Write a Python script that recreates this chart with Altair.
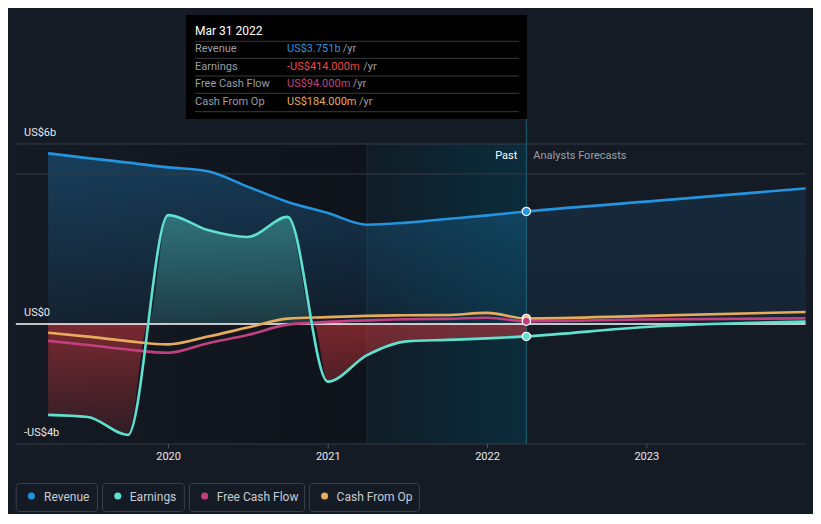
import altair as alt
import pandas as pd

# ---------------- data ----------------
past_dates = ["2019-03-31", "2019-06-30", "2019-09-30", "2019-12-31", "2020-03-31", "2020-06-30",
              "2020-09-30", "2020-12-31", "2021-03-31", "2021-06-30", "2021-09-30", "2021-12-31",
              "2022-03-31"]
forecast_dates = ["2022-03-31", "2022-12-31", "2023-12-31"]

series_names = ["Revenue", "Earnings", "Free Cash Flow", "Cash From Op"]
series_colors = ["#2394df", "#5fe1d0", "#c2407f", "#e6ac5c"]

revenue_past = [5.69, 5.53, 5.38, 5.22, 5.09, 4.58, 4.07, 3.70, 3.31, 3.38, 3.50, 3.62, 3.751]
earnings_past = [-3.03, -3.10, -3.70, 3.63, 3.13, 2.90, 3.57, -1.92, -1.04, -0.58, -0.53, -0.48, -0.414]
fcf_past = [-0.56, -0.70, -0.85, -0.96, -0.64, -0.37, -0.02, 0.07, 0.12, 0.16, 0.17, 0.21, 0.094]
cfo_past = [-0.29, -0.42, -0.57, -0.68, -0.42, -0.12, 0.18, 0.23, 0.27, 0.29, 0.30, 0.37, 0.184]

revenue_fc = [3.751, 4.08, 4.52]
earnings_fc = [-0.414, -0.10, 0.08]
fcf_fc = [0.094, 0.15, 0.19]
cfo_fc = [0.184, 0.27, 0.40]

y_tick_values = [6, 0, -4]
y_tick_labels = ["US$6b", "US$0", "-US$4b"]
grid_values = [6, 5, -4]
x_tick_dates = ["2020-01-01", "2021-01-01", "2022-01-01", "2023-01-01"]
x_tick_labels = ["2020", "2021", "2022", "2023"]

tooltip_title = "Mar 31 2022"
tooltip_values = ["US$3.751b", "-US$414.000m", "US$94.000m", "US$184.000m"]
tooltip_value_colors = ["#2394df", "#f2453d", "#c2407f", "#e6ac5c"]

period_start = "2019-01-16"
last_year_start = "2021-03-31"
present = "2022-03-31"
period_end = "2023-12-31"

# ---------------- layout ----------------
W, H = 805, 506
FONT = "Roboto"
BG = "#151b25"
xs = alt.Scale(type="utc", domain=[alt.DateTime(year=2018, month=12, date=29, utc=True),
                                   alt.DateTime(year=2024, month=1, date=17, utc=True)])
ys = alt.Scale(domain=[-6.3333, 10.5333], nice=False, zero=False)


def X(f):
    return alt.X(f"{f}:T", scale=xs, axis=None)


def Y(f):
    return alt.Y(f"{f}:Q", scale=ys, axis=None)


def X2(f):
    return alt.X2(f"{f}")


def Y2(f):
    return alt.Y2(f"{f}")


def vgrad(stops):
    return alt.Gradient(gradient="linear", x1=0, x2=0, y1=0, y2=1,
                        stops=[alt.GradientStop(color=c, offset=o) for o, c in stops])


def hgrad(stops):
    return alt.Gradient(gradient="linear", x1=0, x2=1, y1=0, y2=0,
                        stops=[alt.GradientStop(color=c, offset=o) for o, c in stops])


dummy = pd.DataFrame({"a": [0]})
layers = []

# background regions
region_df = pd.DataFrame({"x": [period_start], "x2": [last_year_start], "y": [6], "y2": [-4]})
layers.append(alt.Chart(region_df).mark_rect(
    color=hgrad([(0, "rgba(8,10,14,0.05)"), (1, "rgba(8,10,14,0.45)")])
).encode(x=X("x"), x2=X2("x2"), y=Y("y"), y2=Y2("y2")))

band_df = pd.DataFrame({"x": [last_year_start], "x2": [present], "y": [6], "y2": [-4]})
layers.append(alt.Chart(band_df).mark_rect(
    color=hgrad([(0, "#101c26"), (1, "#0b2d3c")])
).encode(x=X("x"), x2=X2("x2"), y=Y("y"), y2=Y2("y2")))

layers.append(alt.Chart(band_df).mark_rule(color="#1b2c37", strokeWidth=1).encode(
    x=X("x"), y=Y("y"), y2=Y2("y2")))

# revenue areas
rev_past_df = pd.DataFrame({"date": past_dates, "v": revenue_past})
rev_fc_df = pd.DataFrame({"date": forecast_dates, "v": revenue_fc})
layers.append(alt.Chart(rev_past_df).mark_area(
    interpolate="monotone",
    color=vgrad([(0, "rgba(35,148,223,0.30)"), (1, "rgba(35,148,223,0.07)")])
).encode(x=X("date"), y=Y("v"), y2=alt.datum(0)))
layers.append(alt.Chart(rev_fc_df).mark_area(
    interpolate="monotone",
    color=vgrad([(0, "rgba(35,148,223,0.12)"), (1, "rgba(35,148,223,0.08)")])
).encode(x=X("date"), y=Y("v"), y2=alt.datum(0)))


# earnings areas (split at zero crossings)
def split_zero(dates, vals):
    ts = pd.to_datetime(dates)
    out_t, out_v = [], []
    for i in range(len(vals)):
        if i > 0 and (vals[i - 1] < 0) != (vals[i] < 0):
            f = vals[i - 1] / (vals[i - 1] - vals[i])
            out_t.append(ts[i - 1] + (ts[i] - ts[i - 1]) * f)
            out_v.append(0.0)
        out_t.append(ts[i])
        out_v.append(vals[i])
    return [t.strftime("%Y-%m-%dT%H:%M:%SZ") for t in out_t], out_v


e_t, e_v = split_zero(past_dates, earnings_past)
earn_area_df = pd.DataFrame({"date": e_t,
                             "pos": [max(v, 0.0) for v in e_v],
                             "neg": [min(v, 0.0) for v in e_v]})
layers.append(alt.Chart(earn_area_df).mark_area(
    interpolate="monotone",
    color=vgrad([(0, "rgba(95,225,208,0.36)"), (1, "rgba(95,225,208,0.14)")])
).encode(x=X("date"), y=Y("pos"), y2=alt.datum(0)))
layers.append(alt.Chart(earn_area_df).mark_area(
    interpolate="monotone",
    color=vgrad([(0, "rgba(222,56,62,0.50)"), (1, "rgba(222,56,62,0.14)")])
).encode(x=X("date"), y=Y("neg"), y2=alt.datum(0)))

# grid lines
grid_df = pd.DataFrame({"v": grid_values, "x": period_start, "x2": period_end})
layers.append(alt.Chart(grid_df).mark_rule(color="#363c47", strokeWidth=1).encode(
    x=X("x"), x2=X2("x2"), y=Y("v")))

# x-axis ticks and labels
xt_df = pd.DataFrame({"date": x_tick_dates, "t": x_tick_labels, "y": -4.0, "y2": -4.14})
layers.append(alt.Chart(xt_df).mark_rule(color="#4a505a", strokeWidth=1).encode(
    x=X("date"), y=Y("y"), y2=Y2("y2")))
layers.append(alt.Chart(xt_df).mark_text(
    align="center", baseline="middle", dy=12.5, font=FONT, fontSize=11, color="#e8e8e8"
).encode(x=X("date"), y=Y("y"), text="t:N"))

# zero line
zero_df = pd.DataFrame({"v": [0], "x": [period_start], "x2": [period_end]})
layers.append(alt.Chart(zero_df).mark_rule(color="#ffffff", strokeWidth=1.3).encode(
    x=X("x"), x2=X2("x2"), y=Y("v")))

# present line
present_df = pd.DataFrame({"x": [present], "y": [10.3], "y2": [-4]})
layers.append(alt.Chart(present_df).mark_rule(color="#1b6579", strokeWidth=1).encode(
    x=X("x"), y=Y("y"), y2=Y2("y2")))

# series lines
series_data = {
    "Revenue": (revenue_past, revenue_fc),
    "Earnings": (earnings_past, earnings_fc),
    "Free Cash Flow": (fcf_past, fcf_fc),
    "Cash From Op": (cfo_past, cfo_fc),
}
color_scale = alt.Scale(domain=series_names, range=series_colors)
draw_order = ["Revenue", "Cash From Op", "Free Cash Flow", "Earnings"]
for name in draw_order:
    p, f = series_data[name]
    df = pd.DataFrame({"date": past_dates + forecast_dates[1:], "v": p + f[1:], "series": name})
    layers.append(alt.Chart(df).mark_line(interpolate="monotone", strokeWidth=2.6).encode(
        x=X("date"), y=Y("v"),
        color=alt.Color("series:N", scale=color_scale, legend=None)))

# present points
pts_df = pd.DataFrame({"date": present, "series": draw_order,
                       "v": [series_data[n][0][-1] for n in draw_order]})
layers.append(alt.Chart(pts_df).mark_circle(size=70, stroke="#ffffff", strokeWidth=1.2, opacity=1).encode(
    x=X("date"), y=Y("v"), fill=alt.Fill("series:N", scale=color_scale, legend=None)))

# y labels
ylab_df = pd.DataFrame({"v": y_tick_values, "t": y_tick_labels})
layers.append(alt.Chart(ylab_df).mark_text(
    align="left", baseline="alphabetic", dy=-8, font=FONT, fontSize=11, color="#e8e8e8"
).encode(x=alt.value(16), y=Y("v"), text="t:N"))

# Past / Analysts Forecasts
pf_df = pd.DataFrame({"date": [present], "v": [5.6]})
layers.append(alt.Chart(pf_df).mark_text(
    align="right", baseline="middle", dx=-9, font=FONT, fontSize=11, color="#ffffff"
).encode(x=X("date"), y=Y("v"), text=alt.value("Past")))
layers.append(alt.Chart(pf_df).mark_text(
    align="left", baseline="middle", dx=7, font=FONT, fontSize=11, color="#9aa0a8"
).encode(x=X("date"), y=Y("v"), text=alt.value("Analysts Forecasts")))

# tooltip box
layers.append(alt.Chart(dummy).mark_rect(color="#000000").encode(
    x=alt.value(178), x2=alt.value(519), y=alt.value(7), y2=alt.value(111)))
for sy in [33.3, 50.3, 68.0, 85.3, 103.7]:
    layers.append(alt.Chart(dummy).mark_rule(color="#3a3a3a", strokeWidth=1).encode(
        x=alt.value(187), x2=alt.value(511), y=alt.value(sy)))
layers.append(alt.Chart(dummy).mark_text(
    align="left", baseline="middle", font=FONT, fontSize=12, color="#ffffff"
).encode(x=alt.value(187), y=alt.value(22.7), text=alt.value(tooltip_title)))
row_y = [41.0, 58.7, 76.3, 93.7]
yr_x = [334.7, 355.3, 344.7, 351.0]
for i, name in enumerate(series_names):
    layers.append(alt.Chart(dummy).mark_text(
        align="left", baseline="middle", font=FONT, fontSize=11, color="#9a9ea6"
    ).encode(x=alt.value(187), y=alt.value(row_y[i]), text=alt.value(name)))
    layers.append(alt.Chart(dummy).mark_text(
        align="left", baseline="middle", font=FONT, fontSize=11, color=tooltip_value_colors[i]
    ).encode(x=alt.value(279), y=alt.value(row_y[i]), text=alt.value(tooltip_values[i])))
    layers.append(alt.Chart(dummy).mark_text(
        align="left", baseline="middle", font=FONT, fontSize=11, color="#9a9ea6"
    ).encode(x=alt.value(yr_x[i]), y=alt.value(row_y[i]), text=alt.value("/yr")))

# legend
box_x = [8.2, 94.6, 181.5, 301.4]
box_x2 = [89.4, 176.3, 296.7, 411.4]
dot_x = [23.4, 109.8, 196.7, 316.6]
txt_x = [36.0, 121.8, 208.8, 328.6]
for i, name in enumerate(series_names):
    layers.append(alt.Chart(dummy).mark_rect(
        fillOpacity=0, stroke="#3b414c", strokeWidth=1, cornerRadius=3
    ).encode(x=alt.value(box_x[i]), x2=alt.value(box_x2[i]), y=alt.value(475.5), y2=alt.value(503.5)))
    layers.append(alt.Chart(dummy).mark_circle(size=50, opacity=1, color=series_colors[i]).encode(
        x=alt.value(dot_x[i]), y=alt.value(488)))
    layers.append(alt.Chart(dummy).mark_text(
        align="left", baseline="middle", font=FONT, fontSize=12, color="#c8ccd3"
    ).encode(x=alt.value(txt_x[i]), y=alt.value(488.5), text=alt.value(name)))

chart = alt.layer(*layers).properties(
    width=W, height=H, padding=0, autosize="none"
).configure(background=BG).configure_view(stroke=None)

chart.save("out.html", embed_options={"renderer": "svg", "actions": False})
